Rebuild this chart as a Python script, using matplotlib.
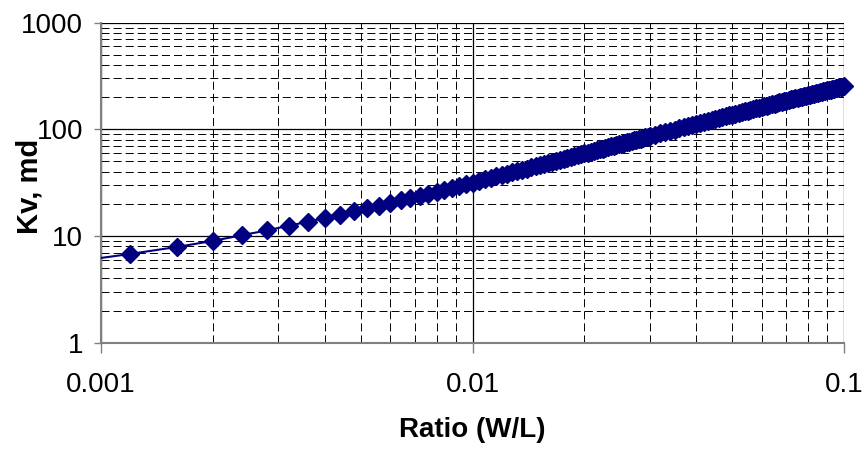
import matplotlib.pyplot as plt
from matplotlib.ticker import LogLocator, NullFormatter

plt.rcParams['font.family'] = ['Liberation Sans', 'DejaVu Sans']
plt.rcParams['lines.scale_dashes'] = False

# W/L ratio, fine steps first, then coarser
ratio_fine = [0.0008, 0.0012, 0.0016, 0.0020, 0.0024, 0.0028, 0.0032, 0.0036, 0.0040, 0.0044,
              0.0048, 0.0052, 0.0056, 0.0060, 0.0064, 0.0068, 0.0072, 0.0076, 0.0080, 0.0084,
              0.0088, 0.0092, 0.0096, 0.0100, 0.0104, 0.0108, 0.0112, 0.0116, 0.0120, 0.0124,
              0.0128, 0.0132, 0.0136, 0.0140, 0.0144, 0.0148, 0.0152, 0.0156, 0.0160, 0.0164,
              0.0168, 0.0172, 0.0176, 0.0180, 0.0184, 0.0188, 0.0192, 0.0196, 0.0200, 0.0204,
              0.0208, 0.0212, 0.0216, 0.0220, 0.0224, 0.0228, 0.0232, 0.0236, 0.0240, 0.0244,
              0.0248, 0.0252, 0.0256, 0.0260, 0.0264, 0.0268, 0.0272, 0.0276, 0.0280, 0.0284,
              0.0288, 0.0292, 0.0296, 0.0300]
kv_fine = [5.6, 6.8, 7.9, 9.0, 10.2, 11.3, 12.5, 13.6, 14.8, 15.9,
           17.0, 18.2, 19.3, 20.4, 21.6, 22.7, 23.8, 25.0, 26.1, 27.2,
           28.4, 29.5, 30.6, 31.7, 32.8, 34.0, 35.1, 36.2, 37.3, 38.4,
           39.5, 40.7, 41.8, 42.9, 44.0, 45.1, 46.2, 47.3, 48.4, 49.5,
           50.6, 51.7, 52.8, 53.9, 55.0, 56.1, 57.2, 58.3, 59.4, 60.5,
           61.6, 62.7, 63.7, 64.8, 65.9, 67.0, 68.1, 69.2, 70.2, 71.3,
           72.4, 73.5, 74.5, 75.6, 76.7, 77.8, 78.8, 79.9, 81.0, 82.0,
           83.1, 84.2, 85.2, 86.3]

ratio_coarse = [0.031, 0.032, 0.033, 0.034, 0.035, 0.036, 0.037, 0.038, 0.039, 0.040,
                0.041, 0.042, 0.043, 0.044, 0.045, 0.046, 0.047, 0.048, 0.049, 0.050,
                0.051, 0.052, 0.053, 0.054, 0.055, 0.056, 0.057, 0.058, 0.059, 0.060,
                0.061, 0.062, 0.063, 0.064, 0.065, 0.066, 0.067, 0.068, 0.069, 0.070,
                0.071, 0.072, 0.073, 0.074, 0.075, 0.076, 0.077, 0.078, 0.079, 0.080,
                0.081, 0.082, 0.083, 0.084, 0.085, 0.086, 0.087, 0.088, 0.089, 0.090,
                0.091, 0.092, 0.093, 0.094, 0.095, 0.096, 0.097, 0.098, 0.099, 0.100]
kv_coarse = [88.9, 91.6, 94.2, 96.8, 99.5, 102.1, 104.7, 107.3, 109.8, 112.4,
             115.0, 117.6, 120.1, 122.7, 125.2, 127.7, 130.3, 132.8, 135.3, 137.8,
             140.3, 142.8, 145.3, 147.7, 150.2, 152.7, 155.1, 157.6, 160.0, 162.4,
             164.8, 167.3, 169.7, 172.1, 174.5, 176.8, 179.2, 181.6, 183.9, 186.3,
             188.6, 191.0, 193.3, 195.6, 197.9, 200.2, 202.5, 204.8, 207.1, 209.4,
             211.7, 213.9, 216.2, 218.4, 220.7, 222.9, 225.1, 227.3, 229.5, 231.7,
             233.9, 236.1, 238.3, 240.4, 242.6, 244.8, 246.9, 249.0, 251.2, 253.3]

ratio = ratio_fine + ratio_coarse
kv = kv_fine + kv_coarse

x_ticks = [0.001, 0.01, 0.1]
x_labels = ["0.001", "0.01", "0.1"]
y_ticks = [1, 10, 100, 1000]
y_labels = ["1", "10", "100", "1000"]

navy = "#000080"

fig = plt.figure(figsize=(8.67, 4.51), dpi=100)
ax = fig.add_axes([0.1165, 0.2401, 0.857, 0.7096])

ax.set_xscale("log")
ax.set_yscale("log")
ax.set_xlim(0.001, 0.1)
ax.set_ylim(1, 1000)

# connecting line is clipped at the plot area, markers are not
ax.plot(ratio, kv, color=navy, linewidth=1.5, zorder=3)
ax.plot(ratio[1:], kv[1:], linestyle="none", marker="D", markersize=8.8,
        color=navy, markeredgecolor=navy, clip_on=False, zorder=4)

ax.set_xticks(x_ticks)
ax.set_xticklabels(x_labels)
ax.set_yticks(y_ticks)
ax.set_yticklabels(y_labels)
ax.xaxis.set_minor_locator(LogLocator(base=10, subs=range(2, 10)))
ax.yaxis.set_minor_locator(LogLocator(base=10, subs=range(2, 10)))
ax.xaxis.set_minor_formatter(NullFormatter())
ax.yaxis.set_minor_formatter(NullFormatter())

ax.grid(True, which="major", color="black", linewidth=0.9)
ax.grid(True, which="minor", color="black", linewidth=0.7, linestyle=(0, (5.8, 2.9)))
ax.set_axisbelow(True)

ax.tick_params(which="major", direction="out", length=5, width=1, color="#808080",
               labelsize=20, pad=8)
ax.tick_params(axis="x", which="major", length=7, pad=14)
ax.tick_params(which="minor", length=0)

ax.spines["top"].set_visible(False)
ax.spines["right"].set_visible(False)
ax.spines["left"].set_color("#808080")
ax.spines["bottom"].set_color("#808080")
ax.spines["left"].set_linewidth(1.5)
ax.spines["bottom"].set_linewidth(1.5)

ax.set_xlabel("Ratio (W/L)", fontsize=20, fontweight="bold", labelpad=14)
ax.set_ylabel("Kv, md", fontsize=21, fontweight="bold")
ax.yaxis.set_label_coords(-0.077, 0.49)

fig.savefig("out.png", dpi=100)
